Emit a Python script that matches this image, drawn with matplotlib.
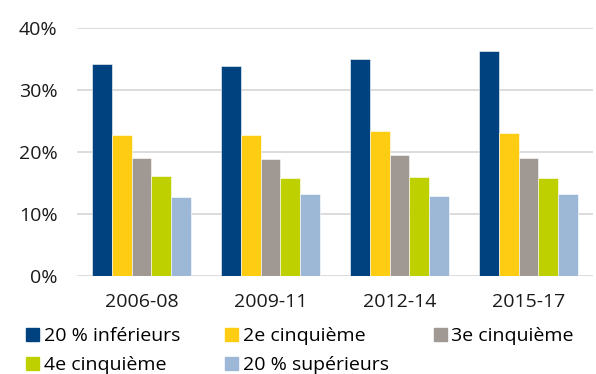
import matplotlib.pyplot as plt
import numpy as np
from matplotlib.patches import Patch

plt.rcParams['font.family'] = ['Open Sans', 'DejaVu Sans']

periods = ['2006-08', '2009-11', '2012-14', '2015-17']
series = ['20 % inférieurs', '2e cinquième', '3e cinquième', '4e cinquième', '20 % supérieurs']
colors = ['#00427f', '#ffcc14', '#a09893', '#bfd000', '#9db8d6']

bottom20 = [34.1, 33.9, 34.9, 36.3]
second = [22.8, 22.7, 23.4, 23.0]
third = [19.1, 18.9, 19.5, 19.0]
fourth = [16.1, 15.9, 16.0, 15.8]
top20 = [12.7, 13.3, 13.0, 13.2]
values = [bottom20, second, third, fourth, top20]

fig = plt.figure(figsize=(5.96, 3.74), dpi=100)
ax = fig.add_axes([0.129, 0.261, 0.866, 0.665])

x = np.arange(len(periods))
w = 0.153
for i, (vals, c) in enumerate(zip(values, colors)):
    ax.bar(x + (i - 2) * w, vals, width=w, color=c, edgecolor='white', linewidth=0.4, zorder=3)

ax.set_xlim(-0.5, len(periods) - 0.5)
ax.set_ylim(0, 40)
ax.set_yticks([0, 10, 20, 30, 40])
ax.set_yticklabels([f'{v}%' for v in [0, 10, 20, 30, 40]])
ax.set_xticks(x)
ax.set_xticklabels(periods)
ax.yaxis.grid(True, color='#d9d9d9', linewidth=1.3, zorder=0)
ax.tick_params(length=0, labelsize=14, colors='#1a1a1a')
ax.tick_params(axis='y', pad=14)
ax.tick_params(axis='x', pad=12)
for s in ax.spines.values():
    s.set_visible(False)

handles = [Patch(color=c, label=l) for c, l in zip(colors, series)]
order = [0, 3, 1, 4, 2]
fig.legend([handles[i] for i in order], [series[i] for i in order],
           ncol=3, loc='upper left', bbox_to_anchor=(26 / 596, 1 - 327 / 374),
           frameon=False, fontsize=14, handlelength=0.67, handleheight=0.67,
           handletextpad=0.25, columnspacing=2.3, labelspacing=0.58,
           borderpad=0, borderaxespad=0)

fig.savefig('out.png', dpi=100)
